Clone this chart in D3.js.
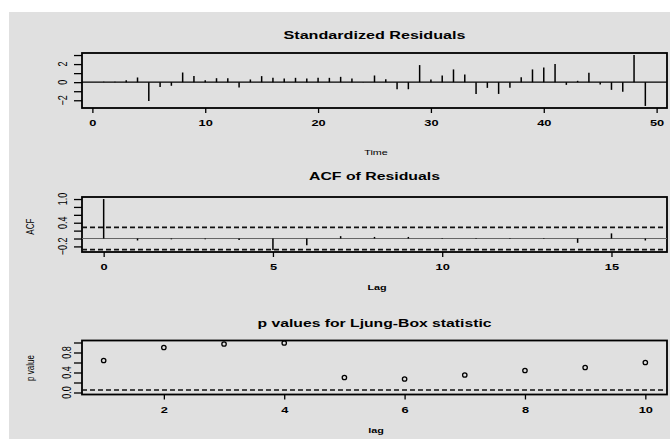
<!DOCTYPE html>
<html>
<head>
<meta charset="utf-8">
<script src="https://cdn.jsdelivr.net/npm/d3@7"></script>
<style>
  body { margin: 0; background: #fff; }
  text { font-family: "Liberation Sans", Arial, sans-serif; fill: #000; }
</style>
</head>
<body>
<div id="chart"></div>
<script>
// standardized residuals, one value per time step (time 1..49)
var residuals = [0.05, 0.05, 0.22, 0.52, -2.07, -0.52, -0.4, 1.07, 0.67, 0.22,
    0.44, 0.42, -0.58, 0.3, 0.67, 0.48, 0.41, 0.48, 0.41, 0.48,
    0.48, 0.59, 0.41, 0.02, 0.74, 0.33, -0.78, -0.78, 1.89, 0.3,
    0.74, 1.41, 0.85, -1.3, -0.63, -1.3, -0.63, 0.55, 1.41, 1.63,
    2.0, -0.3, 0.15, 1.04, -0.26, -0.85, -1.07, 3.0, -2.63];
var residXTicks = [0, 10, 20, 30, 40, 50];
var residYTicks = [-2, -1, 0, 1, 2, 3];
var residYLabels = [-2, 0, 2];

// acf of residuals, lags 0..16
var acfValues = [1.0, -0.05, -0.02, -0.02, -0.04, -0.29, -0.17, 0.06, 0.04, 0.04,
    0.01, -0.01, 0.01, -0.01, -0.11, 0.13, -0.05];
var acfXTicks = [0, 5, 10, 15];
var acfYTicks = [-0.2, 0, 0.2, 0.4, 0.6, 0.8, 1.0];
var acfYLabels = [-0.2, 0.4, 1.0];
var acfBound = 0.28;

// ljung-box p values, lags 1..10
var pValues = [0.64, 0.90, 0.97, 0.99, 0.30, 0.27, 0.35, 0.44, 0.50, 0.60];
var pXTicks = [2, 4, 6, 8, 10];
var pYTicks = [0, 0.2, 0.4, 0.6, 0.8, 1.0];
var pYLabels = [0, 0.4, 0.8];
var pLevel = 0.05;

var width = 670,
    height = 439,
    stretch = 1.35,   // the picture is wider than it is tall, text too
    left = 82,
    right = 667;

// R style axis range, 4% on each side
function pad(lo, hi) {
    let e = (hi - lo) * 0.04;
    return [lo - e, hi + e];
}

let svg = d3.select("#chart")
    .append("svg")
    .attr("width", width)
    .attr("height", height);

svg.append("rect").attr("width", width).attr("height", height).attr("fill", "#fff");
svg.append("rect").attr("x", 9).attr("y", 12)
    .attr("width", width - 9).attr("height", height - 12)
    .attr("fill", "#e0e0e0");

// stretched text helper
function label(x, y, str, size, weight, rotate) {
    return svg.append("text")
        .attr("transform", "translate(" + x + "," + y + ") scale(" + stretch + ",1)" + (rotate ? " rotate(-90)" : ""))
        .attr("text-anchor", "middle")
        .attr("dy", "0.35em")
        .style("font-size", size + "px")
        .style("font-weight", weight)
        .text(str);
}

function title(y, str, len) {
    svg.append("text")
        .attr("x", (left + right) / 2)
        .attr("y", y)
        .attr("dy", "0.35em")
        .attr("text-anchor", "middle")
        .attr("textLength", len)
        .attr("lengthAdjust", "spacingAndGlyphs")
        .style("font-size", "11px")
        .style("font-weight", "bold")
        .text(str);
}

// box, bottom axis and left axis for one panel
function frame(x, y, xTicks, yTicks, yLabels, yLabelOffset, fmt) {
    let top = y.range()[1], bottom = y.range()[0];
    let g = svg.append("g");

    let xAxis = g.append("g")
        .attr("transform", "translate(0," + bottom + ")")
        .call(d3.axisBottom(x).tickValues(xTicks).tickSize(5).tickPadding(6.6).tickFormat(d3.format("d")));
    xAxis.select(".domain").remove();
    xAxis.selectAll("line").attr("stroke", "#000").attr("stroke-width", 1.3);
    xAxis.selectAll("text")
        .attr("transform", "scale(" + stretch + ",1)")
        .attr("fill", "#000")
        .style("font-family", "Liberation Sans, Arial, sans-serif")
        .style("font-size", "9.5px")
        .style("font-weight", "bold");

    let yAxis = g.append("g")
        .attr("transform", "translate(" + left + ",0)")
        .call(d3.axisLeft(y).tickValues(yTicks).tickSize(8).tickFormat(""));
    yAxis.select(".domain").remove();
    yAxis.selectAll("line").attr("stroke", "#000").attr("stroke-width", 1.3);

    yLabels.forEach(function(v) {
        g.append("text")
            .attr("transform", "translate(" + (left + yLabelOffset) + "," + y(v) + ") scale(" + stretch + ",1) rotate(-90)")
            .attr("text-anchor", "middle")
            .style("font-size", "9px")
            .text(fmt(v));
    });

    g.append("rect")
        .attr("x", left).attr("y", top)
        .attr("width", right - left).attr("height", bottom - top)
        .attr("fill", "none")
        .attr("stroke", "#000")
        .attr("stroke-width", 1.8);
    return g;
}

// ---- standardized residuals ----
let x1 = d3.scaleLinear().domain(pad(1, residuals.length)).range([left, right]);
let y1 = d3.scaleLinear().domain(pad(d3.min(residuals), d3.max(residuals))).range([108, 53]);

let g1 = frame(x1, y1, residXTicks, residYTicks, residYLabels, -15, d3.format("d"));
g1.append("line")
    .attr("x1", left).attr("x2", right)
    .attr("y1", y1(0)).attr("y2", y1(0))
    .attr("stroke", "#000").attr("stroke-width", 1.3);
g1.selectAll(".resid")
    .data(residuals)
    .enter().append("line")
    .attr("class", "resid")
    .attr("x1", function(d, i) { return x1(i + 1); })
    .attr("x2", function(d, i) { return x1(i + 1); })
    .attr("y1", y1(0))
    .attr("y2", function(d) { return y1(d); })
    .attr("stroke", "#000")
    .attr("stroke-width", 1.5);

title(35, "Standardized Residuals", 182);
label(376, 152, "Time", 8, "normal");

// ---- acf of residuals ----
let x2 = d3.scaleLinear().domain(pad(0, acfValues.length - 1)).range([left, right]);
let y2 = d3.scaleLinear().domain(pad(Math.min(-acfBound, d3.min(acfValues)), 1)).range([252, 197]);

let g2 = frame(x2, y2, acfXTicks, acfYTicks, acfYLabels, -15, d3.format(".1f"));
g2.append("line")
    .attr("x1", left).attr("x2", right)
    .attr("y1", y2(0)).attr("y2", y2(0))
    .attr("stroke", "#666").attr("stroke-width", 1);
[acfBound, -acfBound].forEach(function(b) {
    g2.append("line")
        .attr("x1", left).attr("x2", right)
        .attr("y1", y2(b)).attr("y2", y2(b))
        .attr("stroke", "#111").attr("stroke-width", 1.7)
        .attr("stroke-dasharray", "5,3");
});
g2.selectAll(".acf")
    .data(acfValues)
    .enter().append("line")
    .attr("class", "acf")
    .attr("x1", function(d, i) { return x2(i); })
    .attr("x2", function(d, i) { return x2(i); })
    .attr("y1", y2(0))
    .attr("y2", function(d) { return y2(d); })
    .attr("stroke", "#000")
    .attr("stroke-width", 1.5);

title(175.7, "ACF of Residuals", 131);
label(377, 287, "Lag", 8, "bold");
label(30, 226.7, "ACF", 8, "normal", true);

// ---- ljung-box p values ----
let x3 = d3.scaleLinear().domain(pad(1, pValues.length)).range([left, right]);
let y3 = d3.scaleLinear().domain(pad(0, 1)).range([394.5, 340.5]);

let g3 = frame(x3, y3, pXTicks, pYTicks, pYLabels, -11, d3.format(".1f"));
g3.append("line")
    .attr("x1", left).attr("x2", right)
    .attr("y1", y3(pLevel)).attr("y2", y3(pLevel))
    .attr("stroke", "#111").attr("stroke-width", 1.7)
    .attr("stroke-dasharray", "5,3");
g3.selectAll(".pval")
    .data(pValues)
    .enter().append("circle")
    .attr("class", "pval")
    .attr("cx", function(d, i) { return x3(i + 1); })
    .attr("cy", function(d) { return y3(d); })
    .attr("r", 2.2)
    .attr("fill", "none")
    .attr("stroke", "#000")
    .attr("stroke-width", 1.3);

title(322.7, "p values for Ljung-Box statistic", 234);
label(376, 430, "lag", 8, "bold");
label(30, 368, "p value", 8, "normal", true);
</script>
</body>
</html>
